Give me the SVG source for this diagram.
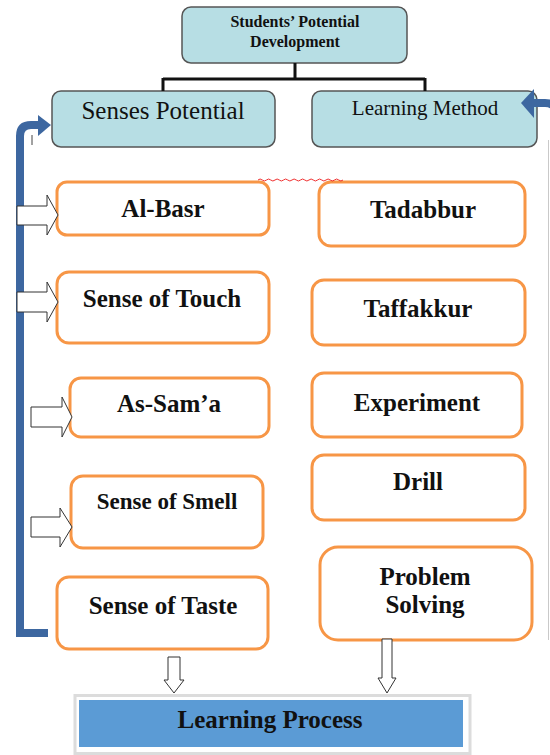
<svg xmlns="http://www.w3.org/2000/svg" width="550" height="755" viewBox="0 0 550 755">
<style>
.hdr{fill:#b7dee4;stroke:#555;stroke-width:1.5}
.box{fill:#fff;stroke:#f79646;stroke-width:3}
.t{font-family:"Liberation Serif","Times New Roman",serif;fill:#111;text-anchor:middle}
.b{font-weight:bold;font-size:25px}
.wa{fill:#fff;stroke:#333;stroke-width:1}
.blue{fill:none;stroke:#3d67a0;stroke-width:8}
.bh{fill:#3d67a0}
</style>
<rect width="550" height="755" fill="#fff"/>
<g id="students-potential-development">
<rect class="hdr" x="182" y="7" width="225" height="56" rx="9"/>
<text class="t" x="295" y="27" font-size="16" font-weight="bold">Students’ Potential</text>
<text class="t" x="295" y="47" font-size="16" font-weight="bold">Development</text>
</g>
<g id="senses-potential">
<rect class="hdr" x="52" y="91" width="223" height="56" rx="9"/>
<text class="t" x="163" y="119" font-size="25">Senses Potential</text>
</g>
<g id="learning-method">
<rect class="hdr" x="312" y="91" width="225" height="56" rx="9"/>
<text class="t" x="425" y="115" font-size="21">Learning Method</text>
</g>
<g id="al-basr">
<rect class="box" x="57" y="182" width="212" height="53" rx="10"/>
<text class="t b" x="163" y="217">Al-Basr</text>
</g>
<g id="sense-of-touch">
<rect class="box" x="57" y="272" width="212" height="71" rx="12"/>
<text class="t b" x="162" y="307">Sense of Touch</text>
</g>
<g id="as-sama">
<rect class="box" x="70" y="378" width="199" height="59" rx="11"/>
<text class="t b" x="169" y="412">As-Sam’a</text>
</g>
<g id="sense-of-smell">
<rect class="box" x="71" y="476" width="192" height="72" rx="12"/>
<text class="t" x="167" y="509" font-size="23" font-weight="bold">Sense of Smell</text>
</g>
<g id="sense-of-taste">
<rect class="box" x="57" y="577" width="211" height="72" rx="12"/>
<text class="t b" x="163" y="614">Sense of Taste</text>
</g>
<g id="tadabbur">
<rect class="box" x="319" y="182" width="206" height="64" rx="12"/>
<text class="t b" x="423" y="218">Tadabbur</text>
</g>
<g id="taffakkur">
<rect class="box" x="312" y="280" width="213" height="65" rx="12"/>
<text class="t b" x="418" y="317">Taffakkur</text>
</g>
<g id="experiment">
<rect class="box" x="312" y="373" width="210" height="64" rx="12"/>
<text class="t b" x="417" y="411">Experiment</text>
</g>
<g id="drill">
<rect class="box" x="312" y="455" width="213" height="65" rx="12"/>
<text class="t b" x="418" y="490">Drill</text>
</g>
<g id="problem-solving">
<rect class="box" x="320" y="547" width="212" height="93" rx="18"/>
<text class="t b" x="425" y="585">Problem</text>
<text class="t b" x="425" y="613">Solving</text>
</g>
<g id="learning-process">
<rect x="75" y="695.5" width="395" height="58" fill="#fff" stroke="#dcdcdc" stroke-width="3"/>
<rect x="79" y="700" width="384" height="47" fill="#5b9bd5"/>
<text class="t b" x="270" y="728">Learning Process</text>
</g>
<g id="connectors">
<path d="M295 63V79M163 79H425M163 78V91M425 78V91" fill="none" stroke="#111" stroke-width="3"/>
<path class="blue" d="M48 633H20V136Q20 125 31 125H40"/>
<polygon class="bh" points="38,115 51,125 38,136"/>
<path class="blue" d="M556 140V113Q556 103 545 103H532"/>
<polygon class="bh" points="534,89 521,103 534,118"/>
<line x1="32" y1="135" x2="32" y2="145" stroke="#444" stroke-width="1"/>
<line x1="548.5" y1="140" x2="548.5" y2="640" stroke="#c9c9c9" stroke-width="1"/>
<path d="M258 180q2.1-2 4.25 0t4.25 0t4.25 0t4.25 0t4.25 0t4.25 0t4.25 0t4.25 0t4.25 0t4.25 0t4.25 0t4.25 0t4.25 0t4.25 0t4.25 0t4.25 0t4.25 0t4.25 0t4.25 0t4.25 0" fill="none" stroke="#f03030" stroke-width="1"/>
<polygon class="wa" points="17,206 47,206 47,195 58,215 47,235 47,225 17,225"/>
<polygon class="wa" points="17,292 47,292 47,282 58,302 47,322 47,312 17,312"/>
<polygon class="wa" points="31,407 62,407 62,397 72,417 62,437 62,427 31,427"/>
<polygon class="wa" points="31,517 60,517 60,508 72,527 60,547 60,537 31,537"/>
<polygon class="wa" points="168,657 180,657 180,680 184,680 174,693 164,680 168,680"/>
<polygon class="wa" points="382,639 392,639 392,678 396,678 387,693 378,678 382,678"/>
</g>
</svg>
